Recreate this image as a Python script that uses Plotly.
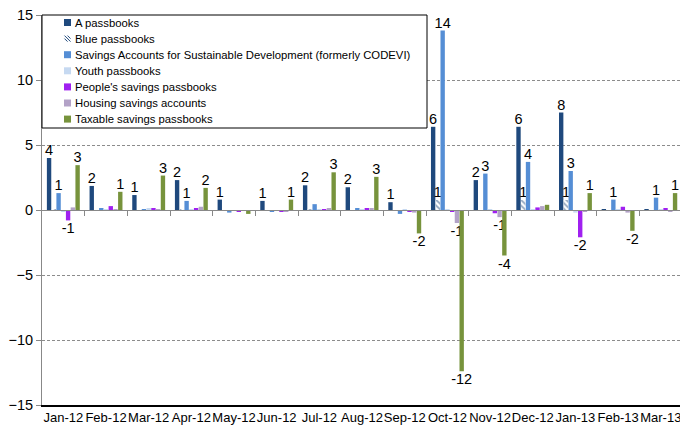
import math
import plotly.graph_objects as go

months = ["Jan-12", "Feb-12", "Mar-12", "Apr-12", "May-12", "Jun-12", "Jul-12", "Aug-12",
          "Sep-12", "Oct-12", "Nov-12", "Dec-12", "Jan-13", "Feb-13", "Mar-13"]

series_names = [
    "A passbooks",
    "Blue passbooks",
    "Savings Accounts for Sustainable Development (formerly CODEVI)",
    "Youth passbooks",
    "People's savings passbooks",
    "Housing savings accounts",
    "Taxable savings passbooks",
]

a_passbooks = [4.0, 1.85, 1.15, 2.3, 0.8, 0.7, 1.9, 1.75, 0.6, 6.4, 2.3, 6.4, 7.5, 0.03, 0.02]
blue_passbooks = [0.05, 0.0, 0.0, 0.05, 0.0, 0.0, 0.05, 0.0, 0.0, 0.77, 0.0, 0.77, 0.77, 0.0, 0.0]
sustainable_dev = [1.3, 0.15, 0.05, 0.7, -0.2, -0.1, 0.45, 0.1, -0.3, 13.8, 2.8, 3.7, 3.0, 0.8, 0.95]
youth_passbooks = [-0.1, 0.02, 0.1, 0.02, -0.05, -0.05, 0.02, 0.05, 0.02, 0.02, 0.02, 0.02, -0.2, 0.02, 0.05]
peoples_savings = [-0.8, 0.3, 0.1, 0.15, -0.1, -0.1, 0.02, 0.1, -0.1, -0.1, -0.25, 0.2, -2.1, 0.25, 0.1]
housing_savings = [0.2, 0.05, 0.05, 0.25, -0.05, -0.1, 0.1, 0.15, -0.2, -1.0, -0.55, 0.3, -0.15, -0.2, -0.1]
taxable_savings = [3.45, 1.4, 2.65, 1.7, -0.3, 0.8, 2.9, 2.55, -1.8, -12.4, -3.5, 0.4, 1.3, -1.6, 1.3]

y_ticks = [-15, -10, -5, 0, 5, 10, 15]

all_values = [a_passbooks, blue_passbooks, sustainable_dev, youth_passbooks,
              peoples_savings, housing_savings, taxable_savings]
colors = ["#1F497D", "#1F497D", "#558ED5", "#C6D9F1", "#A020F0", "#B3A2C7", "#77933C"]

FONT = "Liberation Sans, Arial, sans-serif"


def label(v):
    if abs(v) < 0.5:
        return ""
    r = int(math.copysign(math.floor(abs(v) + 0.5), v))
    return str(r)


fig = go.Figure()
for i, (name, vals, col) in enumerate(zip(series_names, all_values, colors)):
    marker = dict(color=col, line=dict(width=0))
    if i == 1:
        marker = dict(color="white", line=dict(width=0),
                      pattern=dict(shape="\\", fgcolor=col, bgcolor="white", size=4, solidity=0.45))
    fig.add_trace(go.Bar(
        x=months, y=vals, name=name, marker=marker,
        text=[label(v) for v in vals], textposition="outside",
        textfont=dict(family=FONT, size=14.5, color="black"),
        constraintext="none", cliponaxis=False, showlegend=False,
    ))

# invisible trace to register the zero-line axis
fig.add_trace(go.Scatter(x=[], y=[], xaxis="x2", yaxis="y", showlegend=False))

# ---- custom legend (layout decoration); coordinates in window pixels ----
PX_L, PX_R, PX_T, PX_B = 42, 680, 15, 405


def px_x(p):
    return (p - PX_L) / (PX_R - PX_L)


def px_y(p):
    return (PX_B - p) / (PX_B - PX_T)


shapes = [dict(type="rect", xref="paper", yref="paper", x0=px_x(42), x1=px_x(427),
               y0=px_y(128), y1=px_y(15), line=dict(color="black", width=1),
               fillcolor="white", layer="above")]
annotations = []
for i, (name, col) in enumerate(zip(series_names, colors)):
    yc = 22.5 + 16.1 * i
    if i == 1:
        shapes.append(dict(type="rect", xref="paper", yref="paper", x0=px_x(64), x1=px_x(71),
                           y0=px_y(yc + 3.5), y1=px_y(yc - 3.5), line=dict(width=0),
                           fillcolor="white", layer="above"))
        for k in range(3):
            d = -3 + 3 * k
            shapes.append(dict(type="line", xref="paper", yref="paper",
                               x0=px_x(64.5 + max(0, d)), x1=px_x(70.5 + min(0, d)),
                               y0=px_y(yc - 3 - min(0, d)), y1=px_y(yc + 3 - max(0, d)),
                               line=dict(color=col, width=1), layer="above"))
    else:
        shapes.append(dict(type="rect", xref="paper", yref="paper", x0=px_x(64), x1=px_x(71),
                           y0=px_y(yc + 3.5), y1=px_y(yc - 3.5), line=dict(width=0),
                           fillcolor=col, layer="above"))
    annotations.append(dict(xref="paper", yref="paper", x=px_x(73), y=px_y(yc),
                            xanchor="left", yanchor="middle", text=name, showarrow=False,
                            font=dict(family=FONT, size=11.3, color="black")))

fig.update_layout(
    width=680, height=434,
    margin=dict(l=42, r=0, t=15, b=29, autoexpand=False),
    paper_bgcolor="white", plot_bgcolor="white",
    barmode="group", bargap=0.22, bargroupgap=0.08,
    font=dict(family=FONT, size=13, color="black"),
    xaxis=dict(type="category", categoryarray=months, range=[-0.5, 14.45],
               showline=True, linecolor="black", linewidth=1.5, ticks="",
               showgrid=False, tickfont=dict(size=13), tickangle=0,
               automargin=False, fixedrange=True, ticklabeloverflow="allow"),
    xaxis2=dict(overlaying="x", anchor="free", position=0.5, type="linear",
                range=[-0.5, 14.45], showline=True, linecolor="#888888", linewidth=1,
                ticks="outside", ticklen=5, tickcolor="#888888",
                tickvals=[i + 0.5 for i in range(len(months) - 1)],
                showticklabels=False, showgrid=False, zeroline=False, automargin=False),
    yaxis=dict(range=[-15, 15], tickvals=y_ticks, showgrid=True, griddash="3px,2px",
               gridcolor="#8c8c8c", gridwidth=1, showline=True, linecolor="#888888",
               ticks="outside", ticklen=5, tickcolor="#888888", zeroline=False,
               tickfont=dict(size=14.5), automargin=False, ticklabeloverflow="allow"),
    shapes=shapes, annotations=annotations,
)

# remove the default page margin so the 680x434 figure fills the window exactly
fig.write_html("out.html", config={"displayModeBar": False},
               post_script="document.body.style.margin='0';")
